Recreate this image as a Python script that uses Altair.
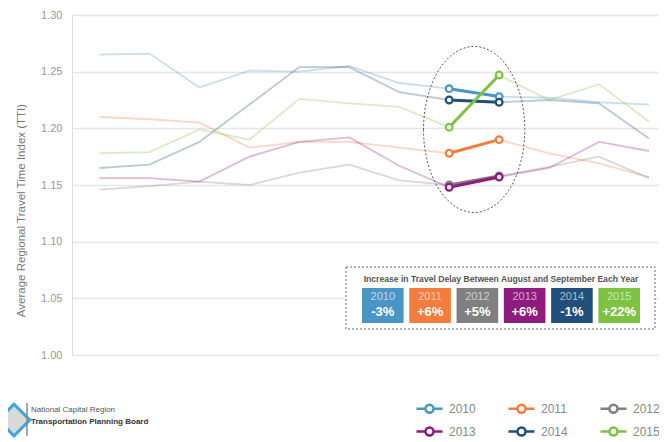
import altair as alt
import pandas as pd

months = ["JAN", "FEB", "MAR", "APR", "MAY", "JUN", "JUL", "AUG", "SEP", "OCT", "NOV", "DEC"]
years = ["2010", "2011", "2012", "2013", "2014", "2015"]
colors = ["#4a95c5", "#f47c3c", "#808080", "#8e1b7e", "#1f4f7a", "#7dc242"]
pct_labels = ["-3%", "+6%", "+5%", "+6%", "-1%", "+22%"]

v2010 = [1.265, 1.266, 1.236, 1.251, 1.250, 1.255, 1.240, 1.235, 1.228, 1.227, 1.223, 1.221]
v2011 = [1.210, 1.208, 1.205, 1.183, 1.188, 1.188, 1.183, 1.178, 1.190, 1.178, 1.169, 1.157]
v2012 = [1.146, 1.149, 1.153, 1.150, 1.161, 1.168, 1.154, 1.150, 1.158, 1.166, 1.175, 1.156]
v2013 = [1.156, 1.156, 1.153, 1.175, 1.188, 1.192, 1.167, 1.148, 1.157, 1.165, 1.188, 1.180]
v2014 = [1.165, 1.168, 1.188, 1.221, 1.254, 1.254, 1.232, 1.225, 1.223, 1.225, 1.222, 1.191]
v2015 = [1.178, 1.179, 1.199, 1.190, 1.226, 1.222, 1.219, 1.201, 1.247, 1.225, 1.239, 1.206]

y_ticks = [1.00, 1.05, 1.10, 1.15, 1.20, 1.25, 1.30]
box_title = "Increase in Travel Delay Between August and September Each Year"
y_title = "Average Regional Travel Time Index (TTI)"
logo_line1 = "National Capital Region"
logo_line2 = "Transportation Planning Board"

FONT = "Liberation Sans"

series = [v2010, v2011, v2012, v2013, v2014, v2015]
rows = []
for yr, vals in zip(years, series):
    for i, v in enumerate(vals):
        rows.append({"year": yr, "m": i, "month": months[i], "tti": v})
df = pd.DataFrame(rows)
hl = df[df["month"].isin(["AUG", "SEP"])]
boxes = pd.DataFrame({"year": years, "pct": pct_labels})
one = pd.DataFrame({"a": [0]})

xscale = alt.Scale(domain=[-0.55, 11.2], nice=False, zero=False)
yscale = alt.Scale(domain=[1.0, 1.3], nice=False, zero=False)
# colour scale for the legend (explicit domain); stroke/fill scales use the
# data-driven (sorted) domain of the same years, so their hidden legends stay separate
legend_scale = alt.Scale(domain=years, range=colors)
data_scale = alt.Scale(range=colors)

label_expr = "[" + ",".join("'%s'" % m for m in months) + "][datum.value]"

legend = alt.Legend(
    title=None, orient="none", legendX=346, legendY=382, columns=3, direction="horizontal",
    columnPadding=27, rowPadding=2, padding=0,
    symbolType="M-1.3,0L-0.4,0M0.4,0L1.3,0M0.4,0A0.4,0.4,0,1,1,-0.4,0A0.4,0.4,0,1,1,0.4,0",
    symbolSize=400, symbolStrokeWidth=2.5, symbolOpacity=1, symbolFillColor="white",
    labelFont=FONT, labelFontSize=12, labelColor="#888", labelOffset=8,
)

x_enc = alt.X("m:Q", scale=xscale,
              axis=alt.Axis(values=list(range(12)), labelExpr=label_expr, grid=False,
                            domain=False, ticks=False, labelPadding=14, title=None,
                            labelFont=FONT, labelFontSize=11, labelColor="#999"))
y_enc = alt.Y("tti:Q", scale=yscale,
              axis=alt.Axis(values=y_ticks, format=".2f", grid=True, gridColor="#e6e6e6",
                            gridWidth=1.5, domain=False, ticks=False, labelPadding=10,
                            labelFont=FONT, labelFontSize=11, labelColor="#999",
                            title=y_title, titleFont=FONT, titleFontSize=11.5,
                            titleFontWeight="normal", titleColor="#777",
                            titleX=-46, titleY=195, titleAngle=270))

faded = alt.Chart(df).mark_line(strokeWidth=1.8, opacity=0.3).encode(
    x=x_enc, y=y_enc,
    stroke=alt.Stroke("year:N", scale=data_scale, legend=None),
    detail="year:N",
)

hl_line = alt.Chart(hl).mark_line(strokeWidth=3).encode(
    x=alt.X("m:Q", scale=xscale, axis=None),
    y=alt.Y("tti:Q", scale=yscale),
    stroke=alt.Stroke("year:N", scale=data_scale, legend=None),
)

hl_pts = alt.Chart(hl).mark_point(shape="circle", size=45, filled=False, fill="white",
                                  strokeWidth=2.2, opacity=1).encode(
    x=alt.X("m:Q", scale=xscale, axis=None),
    y=alt.Y("tti:Q", scale=yscale),
    color=alt.Color("year:N", scale=legend_scale, legend=legend),
)

ellipse = alt.Chart(one).mark_point(
    shape="M-0.61,0A0.61,1,0,1,0,0.61,0A0.61,1,0,1,0,-0.61,0",
    size=27556, filled=False, stroke="#555", strokeWidth=1, strokeDash=[2, 2], opacity=1,
).encode(x=alt.datum(7.5), y=alt.datum(1.199))

# annotation box
frame = alt.Chart(one).mark_rect(fill="white", stroke="#666", strokeWidth=1,
                                 strokeDash=[2, 2]).encode(
    x=alt.value(274), x2=alt.value(583), y=alt.value(252), y2=alt.value(314))
frame_title = alt.Chart(one).mark_text(font=FONT, fontSize=8.6, fontWeight="bold",
                                       color="#555", align="center", baseline="middle").encode(
    x=alt.value(429), y=alt.value(264), text=alt.value(box_title))

# logo
logo_diamond = alt.Chart(one).mark_point(shape="diamond", size=1000, filled=True,
                                         fill="#d9d9d9", stroke="#3da5e0", strokeWidth=3,
                                         opacity=1).encode(
    x=alt.value(-58), y=alt.value(405))
logo_sep = alt.Chart(one).mark_rule(color="#888", strokeWidth=1.5).encode(
    x=alt.value(-45), y=alt.value(388), y2=alt.value(421))
logo_t1 = alt.Chart(one).mark_text(font=FONT, fontSize=8, color="#555", align="left",
                                   baseline="middle").encode(
    x=alt.value(-41), y=alt.value(395), text=alt.value(logo_line1))
logo_t2 = alt.Chart(one).mark_text(font=FONT, fontSize=8, fontWeight="bold", color="#333",
                                   align="left", baseline="middle").encode(
    x=alt.value(-41), y=alt.value(407), text=alt.value(logo_line2))

main = alt.layer(faded, ellipse, hl_line, hl_pts, frame, frame_title,
                 logo_diamond, logo_sep, logo_t1, logo_t2)

bx = alt.X("year:N", scale=alt.Scale(domain=years, range=[290, 568], paddingInner=0.12,
                                     paddingOuter=0), axis=None)
box_rects = alt.Chart(boxes).mark_rect().encode(
    x=bx, y=alt.value(273), y2=alt.value(308),
    fill=alt.Fill("year:N", scale=data_scale, legend=None),
)
box_years = alt.Chart(boxes).mark_text(font=FONT, fontSize=11, color="white", opacity=0.6,
                                       baseline="middle").encode(
    x=bx, y=alt.value(282), text="year:N")
box_pcts = alt.Chart(boxes).mark_text(font=FONT, fontSize=13, fontWeight="bold", color="white",
                                      baseline="middle").encode(
    x=bx, y=alt.value(297), text="pct:N")

boxes_layer = alt.layer(box_rects, box_years, box_pcts)

chart = alt.layer(main, boxes_layer).resolve_scale(x="independent").properties(
    width=587, height=340,
    autosize=alt.AutoSizeParams(type="none"),
    padding={"left": 64, "top": 7, "right": 0, "bottom": 85},
).configure_view(stroke=None).configure(background="white")

chart.save("out.html", embed_options={"renderer": "svg", "actions": False})
